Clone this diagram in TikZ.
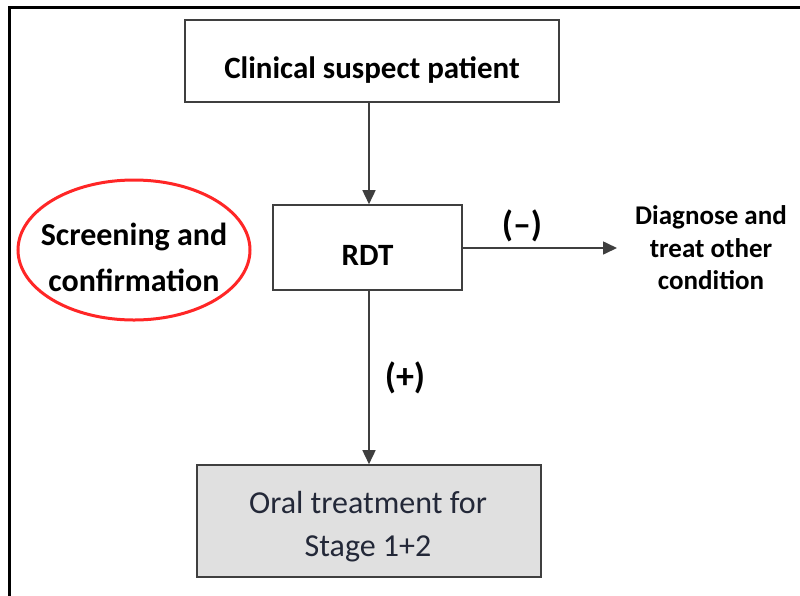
\documentclass[tikz,border=0pt]{standalone}
\usepackage{fontspec}
\setmainfont{Carlito}
\usetikzlibrary{arrows.meta,shapes.geometric}
\definecolor{boxline}{HTML}{3F3F3F}
\definecolor{grayfill}{HTML}{E0E0E0}
\definecolor{oraltext}{HTML}{232838}
\tikzset{
  stepbox/.style={draw=boxline, line width=1.6pt, rectangle, inner sep=0pt, align=center, font=\fontsize{31}{37}\selectfont\bfseries},
  flow/.style={draw=boxline, line width=1.6pt, -{Triangle[length=14pt,width=13pt]}},
  lbl/.style={font=\fontsize{31}{37}\selectfont\bfseries, align=center, inner sep=0pt},
}
\begin{document}
\begin{tikzpicture}[x=1pt,y=-1pt]
\useasboundingbox (0,0) rectangle (800,595);
\draw[line width=3pt] (9,597) -- (9,7) -- (802,7);

\node[stepbox, minimum width=374pt, minimum height=82pt] (top) at (372,61) {};
\node[lbl] (toptext) at (372,70) {Clinical suspect patient};
\node[stepbox, minimum width=189pt, minimum height=85pt] (rdt) at (367.5,247.5) {};
\node[lbl] (rdttext) at (367.5,255) {RDT};
\node[stepbox, fill=grayfill, minimum width=344pt, minimum height=112pt] (oral) at (369,521) {};
\node[lbl, font=\fontsize{32}{43}\selectfont, text=oraltext] (oraltxt) at (368,527) {Oral treatment for\\Stage 1+2};
\node[lbl, font=\fontsize{27}{32.5}\selectfont\bfseries] (diag) at (711,248) {Diagnose and\\treat other\\condition};
\node[ellipse, draw=red!85!white, line width=3pt, minimum width=232pt, minimum height=140pt, inner sep=0pt] (scr) at (134,250) {};
\node[lbl, font=\fontsize{32}{46}\selectfont\bfseries] (scrtext) at (134,257) {Screening and\\confirmation};

\coordinate (rdtx) at (369,0);
\coordinate (diagin) at (617,248);
\draw[flow] (rdtx |- top.south) -- (rdtx |- rdt.north);
\draw[flow] (rdt.east |- diagin) -- (diagin);
\draw[flow] (rdtx |- rdt.south) -- (rdtx |- oral.north);

\node[lbl, font=\fontsize{36}{40}\selectfont\bfseries] (minus) at (522,226) {(–)};
\node[lbl, font=\fontsize{36}{40}\selectfont\bfseries] (plus) at (405,378) {(+)};
\end{tikzpicture}
\end{document}
